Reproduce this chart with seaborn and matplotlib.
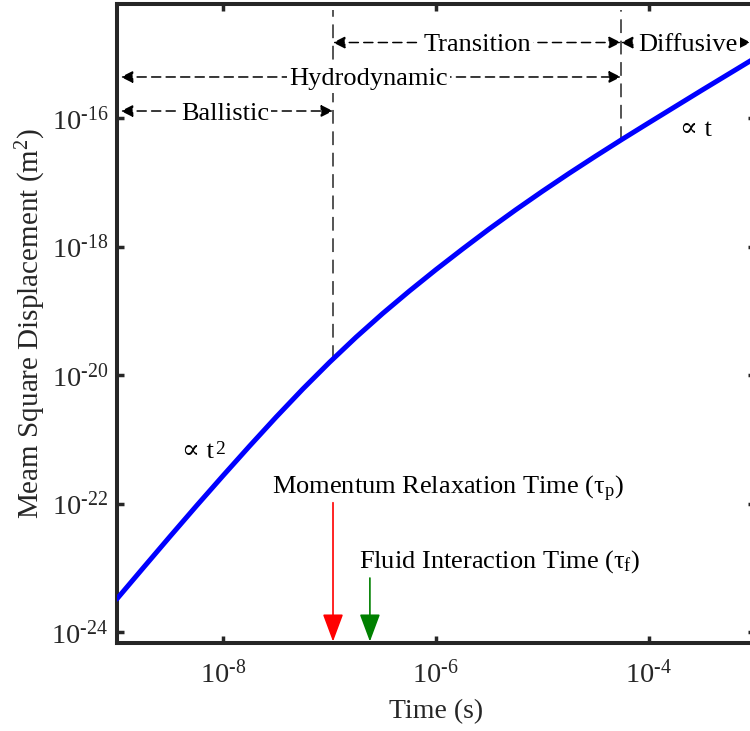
import numpy as np
import pandas as pd
import matplotlib
matplotlib.use("Agg")
import matplotlib.pyplot as plt
import matplotlib.transforms as mtransforms
from matplotlib.ticker import FixedLocator, FuncFormatter, NullLocator
import seaborn as sns

# ---- data ----
time_s = [1.0e-9, 1.78e-9, 3.16e-9, 5.62e-9, 1.0e-8, 1.78e-8, 3.16e-8, 5.62e-8,
          1.0e-7, 1.78e-7, 3.16e-7, 5.62e-7, 1.0e-6, 1.78e-6, 3.16e-6, 5.62e-6,
          1.0e-5, 1.78e-5, 3.16e-5, 5.62e-5, 1.0e-4, 3.16e-4, 1.0e-3]
msd_m2 = [3.24e-24, 1.00e-23, 3.05e-23, 9.20e-23, 2.72e-22, 7.90e-22, 2.23e-21,
          6.08e-21, 1.58e-20, 3.90e-20, 9.10e-20, 2.03e-19, 4.38e-19, 9.18e-19,
          1.88e-18, 3.74e-18, 7.26e-18, 1.38e-17, 2.56e-17, 4.69e-17, 8.47e-17,
          2.73e-16, 8.67e-16]

x_ticks = [1e-8, 1e-6, 1e-4]
y_ticks = [1e-24, 1e-22, 1e-20, 1e-18, 1e-16]
x_limits = [1e-9, 1e-3]
y_limits = [10 ** -24.18, 10 ** -14.22]

tau_p = 1.08e-7        # momentum relaxation time
tau_f = 2.4e-7         # fluid interaction time
t_diffusive = 5.5e-5   # start of diffusive regime

regime_names = ["Ballistic", "Hydrodynamic", "Transition", "Diffusive"]
regime_start = [1e-9, 1e-9, tau_p, t_diffusive]
regime_end = [tau_p, t_diffusive, t_diffusive, 1e-3]

# ---- style ----
sns.set_theme(style="ticks")
plt.rcParams["font.family"] = ["Liberation Serif", "DejaVu Serif"]
plt.rcParams["mathtext.fontset"] = "custom"
plt.rcParams["mathtext.rm"] = "Liberation Serif"
plt.rcParams["mathtext.it"] = "Liberation Serif:italic"
plt.rcParams["mathtext.bf"] = "Liberation Serif:bold"
plt.rcParams["axes.unicode_minus"] = False

FS = 19
AX_COLOR = "#262626"

fig = plt.figure(figsize=(7.5, 7.31), dpi=100)
ax = fig.add_axes([0.1556, 0.1197, 0.851, 0.8748])
ax.set_xscale("log")
ax.set_yscale("log")

df = pd.DataFrame({"t": time_s, "msd": msd_m2})
sns.lineplot(data=df, x="t", y="msd", ax=ax, color=(0, 0, 1), lw=3.6,
             legend=False, sort=True, zorder=3)

ax.set_xlim(*x_limits)
ax.set_ylim(*y_limits)

ax.xaxis.set_major_locator(FixedLocator(x_ticks))
ax.yaxis.set_major_locator(FixedLocator(y_ticks))
ax.xaxis.set_minor_locator(NullLocator())
ax.yaxis.set_minor_locator(NullLocator())


def fmt(v, pos):
    e = int(round(np.log10(v)))
    return r"$\mathdefault{10^{\text{-}%d}}$" % (-e)


ax.xaxis.set_major_formatter(FuncFormatter(fmt))
ax.yaxis.set_major_formatter(FuncFormatter(fmt))

for s in ax.spines.values():
    s.set_linewidth(2.9)
    s.set_color(AX_COLOR)
    s.set_visible(True)

ax.tick_params(which="major", direction="in", length=5, width=2.5,
               top=True, right=True, color=AX_COLOR, labelsize=20.5,
               labelcolor=AX_COLOR)
ax.tick_params(axis="x", pad=12)
ax.tick_params(axis="y", pad=6)

ax.set_xlabel("Time (s)", fontsize=20, color=AX_COLOR)
ax.set_ylabel("Meam Square Displacement (m$^2$)", fontsize=21, color=AX_COLOR)
ax.xaxis.set_label_coords(0.5, -0.0868)
ax.yaxis.set_label_coords(-0.1076, 0.5)

# ---- vertical dashed boundaries ----
lt = np.log10(time_s)
lm = np.log10(msd_m2)
for tb in [tau_p, t_diffusive]:
    y_at = 10 ** np.interp(np.log10(tb), lt, lm)
    ax.plot([tb, tb], [y_at, y_limits[1] * 0.8], color=AX_COLOR, lw=1.1,
            ls=(0, (9, 5)), zorder=2)

# ---- regime arrows ----
trans = mtransforms.blended_transform_factory(ax.transData, ax.transAxes)
levels = [0.8327, 0.8859, 0.9398, 0.9398]
for name, x0, x1, yf in zip(regime_names, regime_start, regime_end, levels):
    sa = 3 if x0 == x_limits[0] else 0
    sb = 3 if x1 == x_limits[1] else 0
    ax.annotate("", xy=(x1, yf), xytext=(x0, yf), xycoords=trans,
                textcoords=trans,
                arrowprops=dict(arrowstyle="<|-|>,head_length=0.36,head_width=0.18",
                                shrinkA=sa, shrinkB=sb, lw=1.1,
                                ls=(0, (6, 3.5)), color="black",
                                mutation_scale=20), zorder=4)
    xm = 10 ** ((np.log10(x0) + np.log10(x1)) / 2)
    ax.text(xm, yf, name, transform=trans, ha="center", va="center_baseline",
            fontsize=FS, color="black", zorder=5,
            bbox=dict(fc="white", ec="none", pad=1.5))

# ---- characteristic time arrows ----
for tt, col, ytop in [(tau_p, "red", 0.2202), (tau_f, (0, 0.5, 0), 0.1024)]:
    ax.annotate("", xy=(tt, 0.003), xytext=(tt, ytop), xycoords=trans,
                textcoords=trans,
                arrowprops=dict(arrowstyle="-|>,head_length=0.86,head_width=0.32",
                                shrinkA=0, shrinkB=0, lw=1.2, color=col,
                                mutation_scale=20), zorder=6)

ax.text(0.2433, 0.2416, "Momentum Relaxation Time (τ$_\\mathrm{p}$)",
        transform=ax.transAxes, ha="left", va="center", fontsize=FS, color="black")
ax.text(0.3796, 0.1274, "Fluid Interaction Time (τ$_\\mathrm{f}$)",
        transform=ax.transAxes, ha="left", va="center", fontsize=FS, color="black")

t2 = ax.text(0.1026, 0.2995, "∝ t", transform=ax.transAxes, ha="left",
             va="center", fontsize=FS, color="black")
ax.annotate("2", xy=(1.0, 0.98), xycoords=t2, xytext=(0.5, 0),
            textcoords="offset points", ha="left", va="top", fontsize=14,
            color="black")
ax.text(0.8826, 0.803, "∝ t", transform=ax.transAxes, ha="left",
        va="center", fontsize=FS, color="black")

fig.savefig("out.png", dpi=100, facecolor="white")
